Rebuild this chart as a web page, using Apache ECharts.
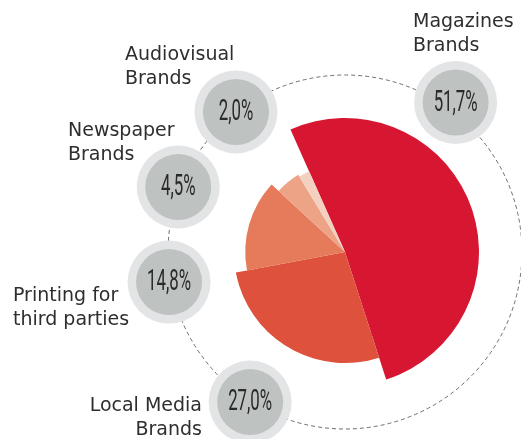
<!DOCTYPE html>
<html>
<head>
<meta charset="utf-8">
<script src="https://cdn.jsdelivr.net/npm/echarts@6/dist/echarts.min.js"></script>
<style>
html,body{margin:0;padding:0;background:#fff;}
#main{width:521px;height:439px;}
</style>
</head>
<body>
<div id="main"></div>
<script>
// ---- data ----
var categories = ['Magazines Brands', 'Local Media Brands', 'Printing for third parties', 'Newspaper Brands', 'Audiovisual Brands'];
var labelLines = [['Magazines', 'Brands'], ['Local Media', 'Brands'], ['Printing for', 'third parties'], ['Newspaper', 'Brands'], ['Audiovisual', 'Brands']];
var shares = [51.7, 27.0, 14.8, 4.5, 2.0];
var colors = ['#d71732', '#de513c', '#e57b5b', '#eda486', '#f4d0c0'];

// ---- layout (not data) ----
var CX = 345, CY = 252;
var ringR = 177;
// bubble centre placement: angle clockwise from 12 o'clock (deg) and distance from centre
var bubbleAngle = [36.5, 212.3, 260.3, 291.3, 322.1];
var bubbleDist = [186, 177.5, 178.5, 179, 177.5];
// label blocks: x, first baseline, align
var labelPos = [[413, 29, 'left'], [202, 413, 'right'], [13, 303, 'left'], [68, 138, 'left'], [125, 62, 'left']];

var chart = echarts.init(document.getElementById('main'), null, {renderer: 'canvas'});

var pieData = categories.map(function (c, i) {
  return {name: c, value: shares[i], itemStyle: {color: colors[i]}};
});

var graphics = [];
graphics.push({
  type: 'circle', z: 1, silent: true,
  shape: {cx: CX, cy: CY, r: ringR},
  style: {fill: 'none', stroke: '#6e6e6e', lineWidth: 1, lineDash: [4, 3]}
});
categories.forEach(function (c, i) {
  var a = bubbleAngle[i] * Math.PI / 180;
  var bx = CX + bubbleDist[i] * Math.sin(a);
  var by = CY - bubbleDist[i] * Math.cos(a);
  graphics.push({type: 'circle', z: 2, silent: true, shape: {cx: bx, cy: by, r: 41.5}, style: {fill: '#e3e4e5'}});
  graphics.push({type: 'circle', z: 3, silent: true, shape: {cx: bx, cy: by, r: 33}, style: {fill: '#bec2c1'}});
  graphics.push({
    type: 'text', z: 4, silent: true, x: bx, y: by + 1, scaleX: 0.58,
    style: {
      text: shares[i].toFixed(1).replace('.', ',') + '%',
      x: 0, y: 0, align: 'center', verticalAlign: 'middle',
      fill: '#2a2a2a', font: '400 29px Roboto, "Liberation Sans Narrow", sans-serif'
    }
  });
  var lp = labelPos[i];
  labelLines[i].forEach(function (t, j) {
    graphics.push({
      type: 'text', z: 4, silent: true,
      style: {
        text: t, x: lp[0], y: lp[1] + j * 24 - 6.5,
        align: lp[2], verticalAlign: 'middle',
        fill: '#2e2e2e', font: '19px "DejaVu Sans", sans-serif'
      }
    });
  });
});

chart.setOption({
  animation: false,
  backgroundColor: '#ffffff',
  series: [
    {
      type: 'pie', roseType: 'radius', center: [CX, CY], radius: [86, 134],
      startAngle: 114, clockwise: true, silent: true, z: 2,
      label: {show: false}, labelLine: {show: false},
      emphasis: {disabled: true},
      itemStyle: {borderWidth: 0},
      data: pieData
    },
    {
      type: 'pie', center: [CX, CY], radius: [0, 88],
      startAngle: 114, clockwise: true, silent: true, z: 3,
      label: {show: false}, labelLine: {show: false},
      emphasis: {disabled: true},
      itemStyle: {borderWidth: 0},
      data: pieData
    }
  ],
  graphic: graphics
});
</script>
</body>
</html>
